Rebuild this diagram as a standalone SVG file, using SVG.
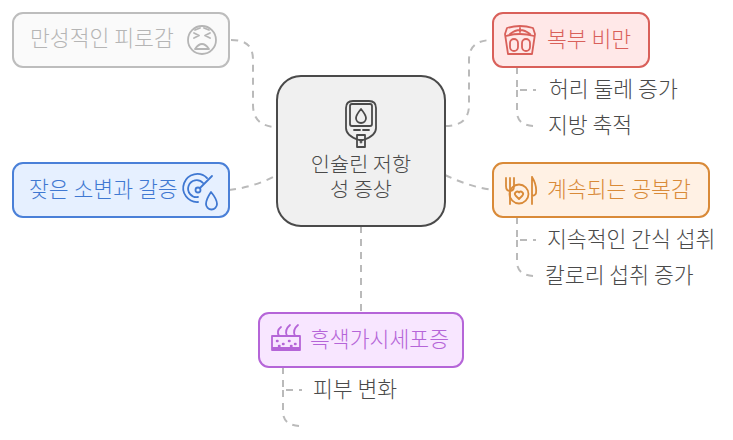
<svg xmlns="http://www.w3.org/2000/svg" width="733" height="440" viewBox="0 0 733 440">
<style>
text{font-family:"Noto Sans CJK KR","Noto Sans",sans-serif;font-size:21.600px;font-weight:300}
.c{fill:none;stroke:#bababa;stroke-width:2;stroke-dasharray:7 6}
.n{stroke-width:2}
.i{fill:none;stroke-width:1.800;stroke-linecap:round;stroke-linejoin:round}
.t{fill:#4a4a4a}
.m{font-size:20.800px}
</style>
<rect width="733" height="440" fill="#fff"/>
<g id="connectors">
<path class="c" d="M231 40C245 40 253 45 253 60V105C253 120 262 127 277 127"/>
<path class="c" d="M229 190Q255 187 277 175"/>
<path class="c" d="M445 126C460 126 469 120 469 105V60C469 45 478 40 493 40"/>
<path class="c" d="M445 175Q470 187 493 190"/>
<path class="c" d="M361 226V313"/>
<path class="c" d="M517 67V90H536"/>
<path class="c" d="M517 90V112C517 121 523 126 536 126"/>
<path class="c" d="M517 217V240H536"/>
<path class="c" d="M517 240V262C517 271 523 276 536 276"/>
<path class="c" d="M283 367V390H302"/>
<path class="c" d="M283 390V412C283 421 289 426 302 426"/>
</g>
<g id="node-fatigue">
<rect class="n" x="13" y="13" width="216" height="54" rx="10" fill="#fafafa" stroke="#bdbdbd"/>
<text x="30" y="46" fill="#b5b5b5">만성적인 피로감</text>
<g class="i" stroke="#b5b5b5"><circle cx="202" cy="40" r="14"/><path d="M194 33l5 2.500-5 2.500M210 33l-5 2.500 5 2.500M195 49q7-10 14 0zM195 30l5-2M209 30l-5-2"/></g>
</g>
<g id="node-urination">
<rect class="n" x="13" y="163" width="216" height="54" rx="10" fill="#e6f0ff" stroke="#4a80d8"/>
<text x="29" y="197" fill="#3f78d2">잦은 소변과 갈증</text>
<g class="i" stroke="#3f78d2"><path d="M207 178a14 14 0 1 0-9 24M203 183a8.500 8.500 0 1 0-5 14M212 176l-12 12M211 192c5 6 6 9 6 12a5.500 5.500 0 0 1-11 0c0-3 1-6 5-12z"/><circle cx="198" cy="190" r="2.500"/></g>
</g>
<g id="node-center">
<rect class="n" x="277" y="76" width="168" height="150" rx="24" fill="#f0f0f0" stroke="#4a4a4a"/>
<g class="i" stroke="#4a4a4a"><path d="M353 101h16q7 0 7 7v20q0 8-13 12h-4q-13-4-13-12v-20q0-7 7-7z"/><rect x="350" y="104" width="22" height="22" rx="2"/><path d="M361 109q5 6 5 9a5 5 0 0 1-10 0q0-3 5-9zM354 130h6M363 130h6"/><rect x="357" y="135" width="8" height="12"/><circle cx="361" cy="142" r="0.500"/></g>
<text text-anchor="middle" class="t m" x="361" y="172">인슐린 저항</text>
<text text-anchor="middle" class="t m" x="361" y="197">성 증상</text>
</g>
<g id="node-belly">
<rect class="n" x="493" y="13" width="156" height="54" rx="10" fill="#ffe8e8" stroke="#d9605a"/>
<g class="i" stroke="#d9605a"><path d="M507 28q13-4 26 0l2 6-3 20h-24l-3-20zM506 36q14-4 28 0M510 34q10-8 20 0M520 28v4"/><rect x="510" y="39" width="8" height="12" rx="4"/><rect x="522" y="39" width="8" height="12" rx="4"/></g>
<text x="547" y="47" fill="#d9605a">복부 비만</text>
</g>
<g id="node-hunger">
<rect class="n" x="493" y="163" width="216" height="54" rx="10" fill="#fff1e4" stroke="#d98a38"/>
<g class="i" stroke="#d98a38"><path d="M506 178v8q0 5 4 5t4-5v-8M510 178v26M532 177v27M532 177q5 8 4 16q0 2-4 3"/><circle cx="519" cy="194" r="9.500"/><path d="M519 199l-3.500-3.500a2.300 2.300 0 0 1 3.500-3a2.300 2.300 0 0 1 3.500 3z"/></g>
<text x="547" y="197" fill="#d98a38">계속되는 공복감</text>
</g>
<g id="node-acanthosis">
<rect class="n" x="259" y="313" width="204" height="54" rx="10" fill="#f8e6ff" stroke="#b565d8"/>
<g class="i" stroke="#b565d8"><path d="M272 336h28v14h-28zM272 348h28M279 336q-3-5 2-9M287 336q-3-6 3-11M295 336q-3-6 3-11"/><path d="M277 341h.5M283 344h.5M289 341h.5M295 344h.5M279 346h.5M291 346h.5" stroke-width="2.500"/></g>
<text x="310" y="347" fill="#b565d8">흑색가시세포증</text>
</g>
<g id="leaves">
<text class="t" x="549" y="97">허리 둘레 증가</text>
<text class="t" x="548" y="133">지방 축적</text>
<text class="t" x="547" y="247">지속적인 간식 섭취</text>
<text class="t" x="545" y="283">칼로리 섭취 증가</text>
<text class="t" x="313" y="397">피부 변화</text>
</g>
</svg>
